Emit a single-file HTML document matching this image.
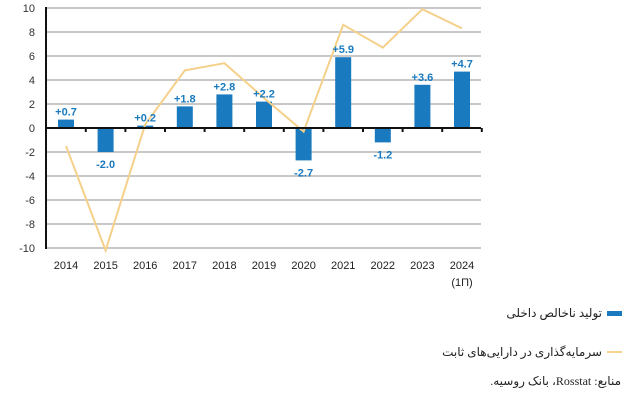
<!DOCTYPE html>
<html><head><meta charset="utf-8"><style>
body{margin:0;background:#fff;width:643px;height:407px;overflow:hidden;font-family:"Liberation Sans","Noto Sans CJK SC",sans-serif;position:relative}
.lg{position:absolute;right:41px;font-size:12px;color:#222;direction:rtl;white-space:nowrap;font-family:"Liberation Serif","DejaVu Sans",serif}
</style></head><body>
<svg id="chart" width="643" height="407" xmlns="http://www.w3.org/2000/svg" style="position:absolute;left:0;top:0">
<g id="grid"></g><g id="bars"></g><g id="line"></g><g id="axes"></g><g id="labels"></g>
<rect x="607" y="311" width="15" height="5" fill="#1a7abf"/>
<rect x="607" y="351" width="15" height="2" fill="#f7d38f"/>
</svg>
<div class="lg" style="top:306px">تولید ناخالص داخلی</div>
<div class="lg" style="top:345px">سرمایه‌گذاری در دارایی‌های ثابت</div>
<div class="lg" style="top:374px;right:22px">منابع: Rosstat، بانک روسیه.</div>
<script>
const categories=["2014","2015","2016","2017","2018","2019","2020","2021","2022","2023","2024"];
const gdp=[0.7,-2.0,0.2,1.8,2.8,2.2,-2.7,5.9,-1.2,3.6,4.7];
const gdpLabels=["+0.7","-2.0","+0.2","+1.8","+2.8","+2.2","-2.7","+5.9","-1.2","+3.6","+4.7"];
const investment=[-1.5,-10.2,0.3,4.8,5.4,2.5,-0.3,8.6,6.7,9.9,8.3];
const yTicks=[10,8,6,4,2,0,-2,-4,-6,-8,-10];
const NS="http://www.w3.org/2000/svg";
const x0=46,x1=481,step=39.6,first=66;
const xs=i=>first+i*step;
const ys=v=>128-v*12;
function mk(t,a,p){const e=document.createElementNS(NS,t);for(const k in a)e.setAttribute(k,a[k]);p.appendChild(e);return e;}
const grid=document.getElementById('grid'),bars=document.getElementById('bars'),line=document.getElementById('line'),axes=document.getElementById('axes'),labels=document.getElementById('labels');
yTicks.forEach(v=>{
 const g=mk('line',{x1:x0,x2:x1,y1:ys(v),y2:ys(v),stroke:'#c8c8c8','stroke-width':2},grid);
 
 
 const t=mk('text',{x:35,y:ys(v)+4,'text-anchor':'end','font-size':11,fill:'#333'},axes);
 t.textContent=v;
 
 
});
gdp.forEach((v,i)=>{
 const r=mk('rect',{x:xs(i)-8,y:Math.min(ys(v),ys(0)),width:16,height:Math.abs(ys(v)-ys(0)),fill:'#1a7abf'},bars);
 
 
 const ly=v>=0?ys(v)-4:ys(v)+16;
 const t=mk('text',{x:xs(i),y:ly,'text-anchor':'middle','font-size':11,'font-weight':'bold',fill:'#1a7abf'},labels);
 t.textContent=gdpLabels[i];
 
 
});
const pts=investment.map((v,i)=>xs(i)+','+ys(v)).join(' ');
const pl=mk('polyline',{points:pts,fill:'none',stroke:'#f5d08a','stroke-width':2},line);


const ya=mk('line',{x1:x0,x2:x0,y1:7,y2:249,stroke:'#111','stroke-width':2},axes);


const xa=mk('line',{x1:x0,x2:x1,y1:ys(0),y2:ys(0),stroke:'#111','stroke-width':2},axes);


categories.forEach((c,i)=>{
 const tk=mk('line',{x1:xs(i)+step/2,x2:xs(i)+step/2,y1:ys(0),y2:ys(0)+4,stroke:'#111','stroke-width':2},axes);
 
 
 const t=mk('text',{x:xs(i),y:269,'text-anchor':'middle','font-size':11,fill:'#222'},axes);
 t.textContent=c;
 
 
});
const sub=mk('text',{x:xs(10),y:286,'text-anchor':'middle','font-size':11,fill:'#222'},axes);
sub.textContent='(1П)';


</script>
</body></html>
